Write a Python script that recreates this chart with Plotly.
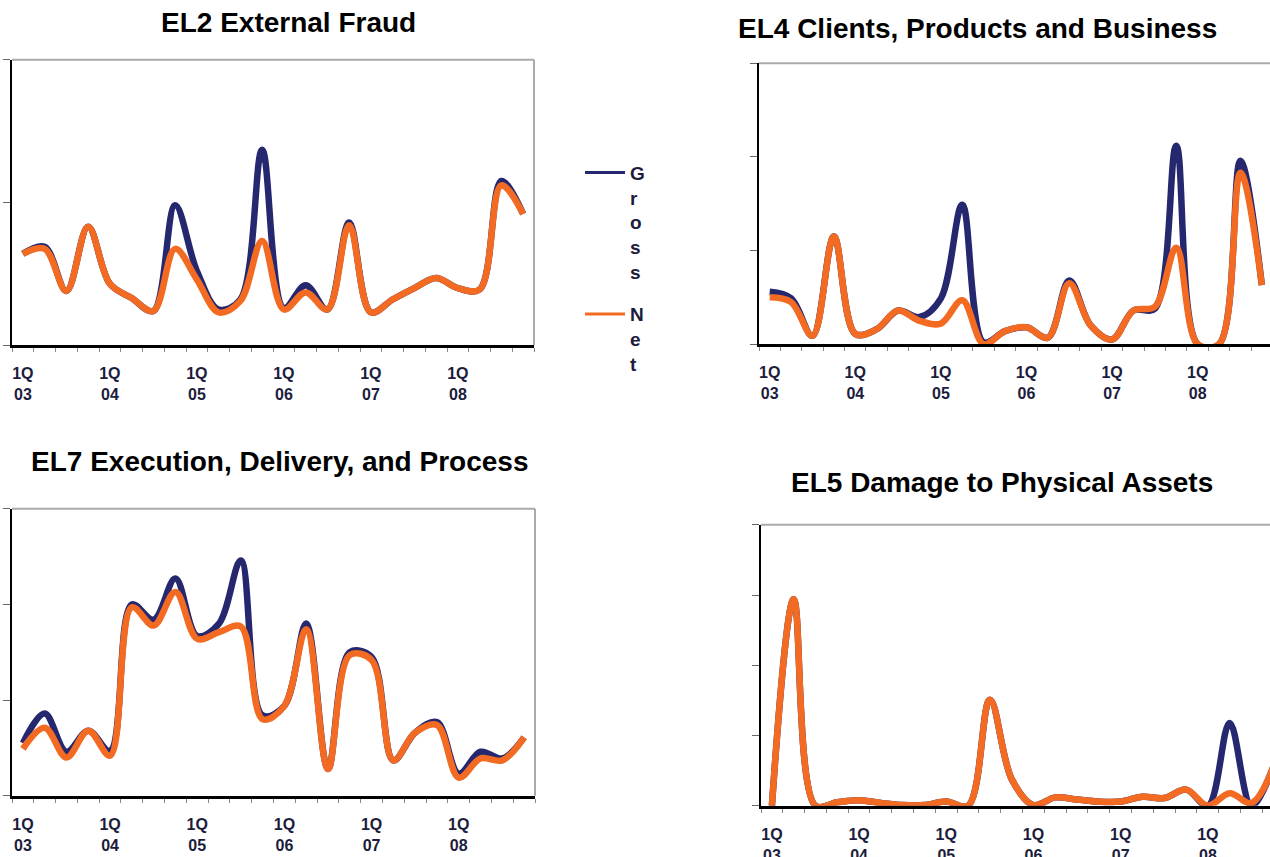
import plotly.graph_objects as go

# ---------------- data ----------------
quarters = ["1Q03", "2Q03", "3Q03", "4Q03", "1Q04", "2Q04", "3Q04", "4Q04",
            "1Q05", "2Q05", "3Q05", "4Q05", "1Q06", "2Q06", "3Q06", "4Q06",
            "1Q07", "2Q07", "3Q07", "4Q07", "1Q08", "2Q08", "3Q08", "4Q08"]
labelled_quarters = ["1Q03", "1Q04", "1Q05", "1Q06", "1Q07", "1Q08"]
tick_labels = ["1Q<br>03", "1Q<br>04", "1Q<br>05", "1Q<br>06", "1Q<br>07", "1Q<br>08"]
series_names = ["Gross", "Net"]

el2_gross = [0.64, 0.69, 0.38, 0.83, 0.43, 0.33, 0.24, 0.98, 0.52, 0.25, 0.32, 1.37,
             0.26, 0.42, 0.25, 0.86, 0.23, 0.32, 0.40, 0.47, 0.40, 0.39, 1.15, 0.92]
el2_net = [0.64, 0.675, 0.38, 0.83, 0.43, 0.33, 0.24, 0.675, 0.46, 0.23, 0.31, 0.73,
           0.25, 0.37, 0.25, 0.84, 0.23, 0.32, 0.40, 0.47, 0.40, 0.39, 1.12, 0.92]

el4_gross = [0.56, 0.49, 0.09, 1.15, 0.11, 0.16, 0.36, 0.29, 0.49, 1.49, 0.02, 0.14,
             0.18, 0.07, 0.68, 0.20, 0.05, 0.36, 0.38, 2.12, 0.0, 0.0, 1.96, 0.63]
el4_net = [0.50, 0.45, 0.09, 1.15, 0.11, 0.16, 0.36, 0.25, 0.22, 0.47, 0.0, 0.14,
           0.18, 0.07, 0.65, 0.20, 0.05, 0.36, 0.40, 1.03, 0.0, 0.0, 1.83, 0.63]

el7_gross = [0.55, 0.86, 0.46, 0.68, 0.47, 2.00, 1.84, 2.27, 1.67, 1.80, 2.46, 0.84,
             0.94, 1.80, 0.28, 1.50, 1.45, 0.37, 0.66, 0.77, 0.23, 0.46, 0.39, 0.61]
el7_net = [0.49, 0.71, 0.40, 0.68, 0.42, 1.97, 1.78, 2.13, 1.64, 1.71, 1.77, 0.80,
           0.94, 1.74, 0.28, 1.47, 1.42, 0.37, 0.66, 0.74, 0.19, 0.39, 0.37, 0.61]

el5_gross = [0.0, 2.94, 0.0, 0.05, 0.08, 0.04, 0.01, 0.01, 0.06, 0.0, 1.51, 0.38,
             0.01, 0.12, 0.09, 0.06, 0.06, 0.13, 0.11, 0.23, 0.0, 1.18, 0.0, 0.55]
el5_net = [0.0, 2.94, 0.0, 0.05, 0.08, 0.04, 0.01, 0.01, 0.06, 0.0, 1.51, 0.38,
           0.01, 0.12, 0.09, 0.06, 0.06, 0.13, 0.11, 0.23, 0.0, 0.18, 0.04, 0.55]

titles = ["EL2 External Fraud", "EL4 Clients, Products and Business",
          "EL7 Execution, Delivery, and Process", "EL5 Damage to Physical Assets"]
y_max = [2, 3, 3, 4]

# ---------------- style ----------------
W, H = 1270, 857          # reference picture size (positions below are in its pixels)
H_LAYOUT = 864            # rendered height (compensates the slight vertical squeeze)
NAVY = "#25276f"
ORANGE = "#f36a22"
FONT = "Liberation Sans"
TXT = "#1c1c3c"

x_idx = list(range(len(quarters)))
tickvals = [quarters.index(q) for q in labelled_quarters]

panels = [
    # (gross, net, xdomain px, ydomain px (top,bottom), xrange_end, title center px)
    (el2_gross, el2_net, (12, 534), (59.5, 344), 23.5, (288, 22)),
    (el4_gross, el4_net, (759, 1270), (63, 343), 23.38, (977, 28)),
    (el7_gross, el7_net, (12, 535), (507, 793), 23.5, (279, 460)),
    (el5_gross, el5_net, (761, 1270), (523, 803), 22.85, (1002, 481)),
]

fig = go.Figure()
shapes = []
annotations = []
layout = {}

for k, (g, n, (xl, xr), (yt, yb), xend, (tx, ty)) in enumerate(panels):
    sfx = "" if k == 0 else str(k + 1)
    xa, ya = "x" + sfx, "y" + sfx
    fig.add_trace(go.Scatter(x=x_idx, y=g, mode="lines", name=series_names[0],
                             line=dict(color=NAVY, width=6.5, shape="spline", smoothing=1),
                             xaxis=xa, yaxis=ya, showlegend=False, hoverinfo="skip"))
    fig.add_trace(go.Scatter(x=x_idx, y=n, mode="lines", name=series_names[1],
                             line=dict(color=ORANGE, width=6.5, shape="spline", smoothing=1),
                             xaxis=xa, yaxis=ya, showlegend=False, hoverinfo="skip"))
    layout["xaxis" + sfx] = dict(
        domain=[xl / W, xr / W], range=[-0.5, xend], anchor=ya,
        tickmode="array", tickvals=tickvals, ticktext=tick_labels,
        ticks="", showgrid=False, zeroline=False,
        showline=True, linecolor="black", linewidth=3,
        tickfont=dict(family=FONT, size=16, color=TXT, weight="bold"),
        ticklabelstandoff=12,
        minor=dict(tickvals=[i - 0.5 for i in range(len(quarters) + 1)],
                   ticks="outside", ticklen=4, tickcolor="#888", tickwidth=1),
        fixedrange=True,
    )
    layout["yaxis" + sfx] = dict(
        domain=[1 - yb / H, 1 - yt / H], range=[0, y_max[k]], anchor=xa,
        tickmode="linear", tick0=0, dtick=1, showticklabels=False,
        ticks="outside", ticklen=7, tickcolor="#666", tickwidth=1,
        showgrid=False, zeroline=False,
        showline=True, linecolor="black", linewidth=2, fixedrange=True,
    )
    # plot frame (top and right borders in gray)
    shapes.append(dict(type="line", xref=xa + " domain", yref=ya + " domain",
                       x0=0, x1=1, y0=1, y1=1, line=dict(color="#aaaaaa", width=2),
                       layer="below"))
    if xr < W:
        shapes.append(dict(type="line", xref=xa + " domain", yref=ya + " domain",
                           x0=1, x1=1, y0=0, y1=1, line=dict(color="#aaaaaa", width=2),
                           layer="below"))
    annotations.append(dict(text="<b>" + titles[k] + "</b>", x=tx / W, y=1 - ty / H,
                            xref="paper", yref="paper", showarrow=False,
                            xanchor="center", yanchor="middle",
                            font=dict(family=FONT, size=28, color="black")))

# legend-only traces
for name, col in zip(series_names, [NAVY, ORANGE]):
    fig.add_trace(go.Scatter(x=[None], y=[None], mode="lines",
                             name="<br>".join(list(name)), legendgroup=name,
                             line=dict(color=col, width=3), xaxis="x", yaxis="y"))

fig.update_layout(
    width=W, height=H_LAYOUT, margin=dict(l=0, r=0, t=0, b=0),
    paper_bgcolor="white", plot_bgcolor="white",
    shapes=shapes, annotations=annotations,
    legend=dict(x=580 / W, y=1 - 153 / H, xanchor="left", yanchor="top",
                valign="top", itemwidth=40, tracegroupgap=15,
                font=dict(family=FONT, size=19, color=TXT, weight="bold"),
                bgcolor="rgba(0,0,0,0)"),
    **layout,
)

fig.write_html("out.html", config={"displayModeBar": False},
               post_script="document.body.style.margin='0';document.body.style.overflow='hidden';")
